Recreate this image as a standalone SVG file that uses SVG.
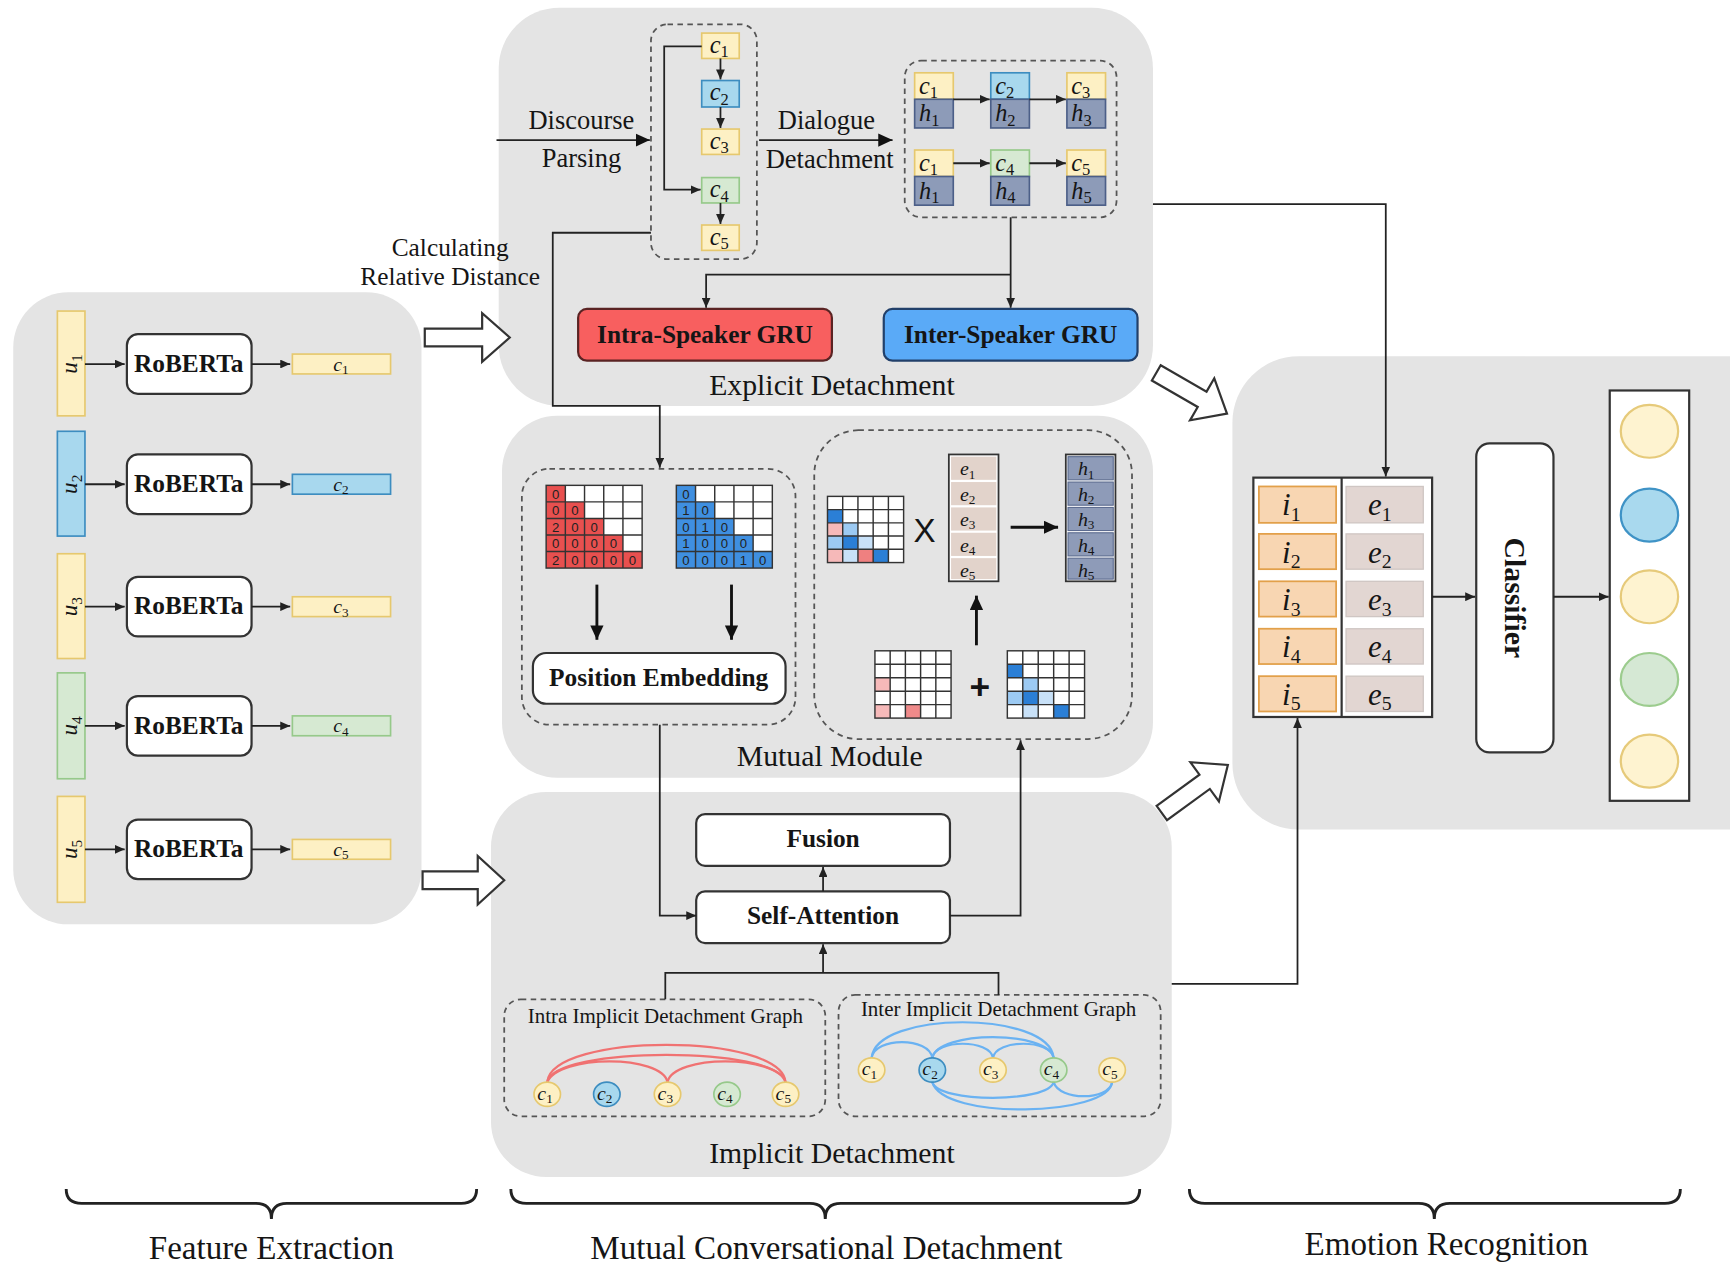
<svg xmlns="http://www.w3.org/2000/svg" width="1730" height="1263" viewBox="0 0 1730 1263">
<defs>
<style>
.panel{fill:#e4e4e4}
.dash{fill:none;stroke:#555;stroke-width:1.6;stroke-dasharray:5 4}
.ln{fill:none;stroke:#222;stroke-width:1.6}
.lnb{fill:none;stroke:#111;stroke-width:2.6}
.box{fill:#fff;stroke:#333;stroke-width:2}
.yel{fill:#fdf0c4;stroke:#e6c86e;stroke-width:1.5}
.blu{fill:#a8d8ee;stroke:#3d8dc0;stroke-width:1.5}
.grn{fill:#d6e9d2;stroke:#96c98a;stroke-width:1.5}
.hc{fill:#8d9bb8;stroke:#4c5f88;stroke-width:1.5}
.t{font-family:"Liberation Serif","Times New Roman",serif;fill:#151515}
.b{font-weight:bold}
.m{font-style:italic}
.s{font-style:normal}
.mid{text-anchor:middle}
.num{font-family:"Liberation Sans",Arial,sans-serif;font-size:12px;fill:#222;text-anchor:middle}
.grid{fill:none;stroke:#333;stroke-width:1.3}
.hollow{fill:#fff;stroke:#333;stroke-width:2;stroke-linejoin:miter}
.red{fill:none;stroke:#f07272;stroke-width:2}
.bl{fill:none;stroke:#6ab2f2;stroke-width:2}
.brace{fill:none;stroke:#222;stroke-width:2.6}
</style>
<marker id="a" markerUnits="userSpaceOnUse" markerWidth="9" markerHeight="8" refX="9" refY="4" orient="auto"><path d="M0,0 L9,4 L0,8 z" fill="#222"/></marker>
<marker id="A" markerUnits="userSpaceOnUse" markerWidth="13" markerHeight="12" refX="13" refY="6" orient="auto"><path d="M0,0 L13,6 L0,12 z" fill="#111"/></marker>
</defs>
<g transform="scale(1.10332 1.10306)">

<g id="panels">
<rect class="panel" x="12" y="265" width="370" height="573" rx="50"/>
<rect class="panel" x="452" y="7" width="593" height="361" rx="55"/>
<rect class="panel" x="455" y="377" width="590" height="328" rx="50"/>
<rect class="panel" x="445" y="718" width="617" height="349" rx="50"/>
<rect class="panel" x="1117" y="323" width="520" height="429" rx="60"/>
</g>

<g id="hollow-arrows">
<polygon class="hollow" points="385,298 437,298 437,284 462,306 437,328 437,314 385,314"/>
<polygon class="hollow" points="383,790 433,790 433,776 457,798 433,820 433,806 383,806"/>
<polygon class="hollow" transform="translate(1048,338) rotate(30)" points="0,-8 48,-8 48,-22 74,0 48,22 48,8 0,8"/>
<polygon class="hollow" transform="translate(1053,737) rotate(-36)" points="0,-8 48,-8 48,-22 74,0 48,22 48,8 0,8"/>
</g>

<g id="feature-extraction">
<g id="u1"><rect class="yel" x="52" y="282" width="25" height="95"/><text class="t m mid" font-size="21" transform="translate(70,330) rotate(-90)">u<tspan class="s" font-size="14" dy="4">1</tspan></text></g>
<g id="u2"><rect class="blu" x="52" y="391" width="25" height="95"/><text class="t m mid" font-size="21" transform="translate(70,439) rotate(-90)">u<tspan class="s" font-size="14" dy="4">2</tspan></text></g>
<g id="u3"><rect class="yel" x="52" y="502" width="25" height="95"/><text class="t m mid" font-size="21" transform="translate(70,550) rotate(-90)">u<tspan class="s" font-size="14" dy="4">3</tspan></text></g>
<g id="u4"><rect class="grn" x="52" y="610" width="25" height="96"/><text class="t m mid" font-size="21" transform="translate(70,658) rotate(-90)">u<tspan class="s" font-size="14" dy="4">4</tspan></text></g>
<g id="u5"><rect class="yel" x="52" y="722" width="25" height="96"/><text class="t m mid" font-size="21" transform="translate(70,770) rotate(-90)">u<tspan class="s" font-size="14" dy="4">5</tspan></text></g>

<g id="roberta1"><rect class="box" x="115" y="303" width="113" height="54" rx="10"/><text class="t b mid" font-size="23" x="171" y="337">RoBERTa</text></g>
<g id="roberta2"><rect class="box" x="115" y="412" width="113" height="54" rx="10"/><text class="t b mid" font-size="23" x="171" y="446">RoBERTa</text></g>
<g id="roberta3"><rect class="box" x="115" y="523" width="113" height="54" rx="10"/><text class="t b mid" font-size="23" x="171" y="557">RoBERTa</text></g>
<g id="roberta4"><rect class="box" x="115" y="631" width="113" height="54" rx="10"/><text class="t b mid" font-size="23" x="171" y="665">RoBERTa</text></g>
<g id="roberta5"><rect class="box" x="115" y="743" width="113" height="54" rx="10"/><text class="t b mid" font-size="23" x="171" y="777">RoBERTa</text></g>

<g id="cbar1"><rect class="yel" x="265" y="321" width="89" height="18"/><text class="t m mid" font-size="18" x="309" y="336">c<tspan class="s" font-size="12" dy="3">1</tspan></text></g>
<g id="cbar2"><rect class="blu" x="265" y="430" width="89" height="18"/><text class="t m mid" font-size="18" x="309" y="445">c<tspan class="s" font-size="12" dy="3">2</tspan></text></g>
<g id="cbar3"><rect class="yel" x="265" y="541" width="89" height="18"/><text class="t m mid" font-size="18" x="309" y="556">c<tspan class="s" font-size="12" dy="3">3</tspan></text></g>
<g id="cbar4"><rect class="grn" x="265" y="649" width="89" height="18"/><text class="t m mid" font-size="18" x="309" y="664">c<tspan class="s" font-size="12" dy="3">4</tspan></text></g>
<g id="cbar5"><rect class="yel" x="265" y="761" width="89" height="18"/><text class="t m mid" font-size="18" x="309" y="776">c<tspan class="s" font-size="12" dy="3">5</tspan></text></g>
</g>

<g id="explicit">
<text class="t mid" font-size="24" x="527" y="117">Discourse</text>
<text class="t mid" font-size="24" x="527" y="151">Parsing</text>
<text class="t mid" font-size="24" x="749" y="117">Dialogue</text>
<text class="t mid" font-size="24" x="752" y="152">Detachment</text>
<text class="t mid" font-size="23" x="408" y="232">Calculating</text>
<text class="t mid" font-size="23" x="408" y="258">Relative Distance</text>

<g id="discourse-tree">
<rect class="dash" x="590" y="22" width="96" height="213" rx="15"/>
<rect class="yel" x="636" y="30" width="34" height="23"/><text class="t m mid" font-size="22" x="652" y="48">c<tspan class="s" font-size="15" dy="4">1</tspan></text>
<rect class="blu" x="636" y="73" width="34" height="24"/><text class="t m mid" font-size="22" x="652" y="91">c<tspan class="s" font-size="15" dy="4">2</tspan></text>
<rect class="yel" x="636" y="117" width="34" height="23"/><text class="t m mid" font-size="22" x="652" y="135">c<tspan class="s" font-size="15" dy="4">3</tspan></text>
<rect class="grn" x="636" y="161" width="34" height="23"/><text class="t m mid" font-size="22" x="652" y="179">c<tspan class="s" font-size="15" dy="4">4</tspan></text>
<rect class="yel" x="636" y="204" width="34" height="23"/><text class="t m mid" font-size="22" x="652" y="222">c<tspan class="s" font-size="15" dy="4">5</tspan></text>
</g>

<g id="detached-chains">
<rect class="dash" x="820" y="55" width="192" height="142" rx="15"/>
<rect class="yel" x="829" y="66" width="35" height="24"/><rect class="hc" x="829" y="90" width="35" height="26"/>
<rect class="blu" x="898" y="66" width="35" height="24"/><rect class="hc" x="898" y="90" width="35" height="26"/>
<rect class="yel" x="967" y="66" width="35" height="24"/><rect class="hc" x="967" y="90" width="35" height="26"/>
<rect class="yel" x="829" y="136" width="35" height="24"/><rect class="hc" x="829" y="160" width="35" height="26"/>
<rect class="grn" x="898" y="136" width="35" height="24"/><rect class="hc" x="898" y="160" width="35" height="26"/>
<rect class="yel" x="967" y="136" width="35" height="24"/><rect class="hc" x="967" y="160" width="35" height="26"/>
<g class="t m" font-size="22">
<text x="833" y="85">c<tspan class="s" font-size="15" dy="4">1</tspan></text>
<text x="902" y="85">c<tspan class="s" font-size="15" dy="4">2</tspan></text>
<text x="971" y="85">c<tspan class="s" font-size="15" dy="4">3</tspan></text>
<text x="833" y="110">h<tspan class="s" font-size="15" dy="4">1</tspan></text>
<text x="902" y="110">h<tspan class="s" font-size="15" dy="4">2</tspan></text>
<text x="971" y="110">h<tspan class="s" font-size="15" dy="4">3</tspan></text>
<text x="833" y="155">c<tspan class="s" font-size="15" dy="4">1</tspan></text>
<text x="902" y="155">c<tspan class="s" font-size="15" dy="4">4</tspan></text>
<text x="971" y="155">c<tspan class="s" font-size="15" dy="4">5</tspan></text>
<text x="833" y="180">h<tspan class="s" font-size="15" dy="4">1</tspan></text>
<text x="902" y="180">h<tspan class="s" font-size="15" dy="4">4</tspan></text>
<text x="971" y="180">h<tspan class="s" font-size="15" dy="4">5</tspan></text>
</g>
</g>

<g id="intra-gru"><rect x="524" y="280" width="230" height="47" rx="8" fill="#f85f5f" stroke="#5a2323" stroke-width="2"/><text class="t b mid" font-size="23" x="639" y="311">Intra-Speaker GRU</text></g>
<g id="inter-gru"><rect x="801" y="280" width="230" height="47" rx="8" fill="#5aaaf7" stroke="#22406a" stroke-width="2"/><text class="t b mid" font-size="23" x="916" y="311">Inter-Speaker GRU</text></g>
<text class="t mid" font-size="27" x="754" y="358">Explicit Detachment</text>
</g>

<g id="mutual">
<rect class="dash" x="473" y="425" width="248" height="232" rx="25"/>
<g id="red-matrix">
<rect x="495" y="440" width="87" height="75" fill="#fff"/>
<polygon fill="#e8504f" points="495,440 512.4,440 512.4,455 529.8,455 529.8,470 547.2,470 547.2,485 564.6,485 564.6,500 582,500 582,515 495,515"/>
<rect class="grid" x="495" y="440" width="87" height="75"/>
<path class="grid" d="M512.4,440V515M529.8,440V515M547.2,440V515M564.6,440V515M495,455H582M495,470H582M495,485H582M495,500H582"/>
<text class="num" x="503.7" y="452">0</text>
<text class="num" x="503.7" y="467">0</text><text class="num" x="521.1" y="467">0</text>
<text class="num" x="503.7" y="482">2</text><text class="num" x="521.1" y="482">0</text><text class="num" x="538.5" y="482">0</text>
<text class="num" x="503.7" y="497">0</text><text class="num" x="521.1" y="497">0</text><text class="num" x="538.5" y="497">0</text><text class="num" x="555.9" y="497">0</text>
<text class="num" x="503.7" y="512">2</text><text class="num" x="521.1" y="512">0</text><text class="num" x="538.5" y="512">0</text><text class="num" x="555.9" y="512">0</text><text class="num" x="573.3" y="512">0</text>
</g>
<g id="blue-matrix">
<rect x="613" y="440" width="87" height="75" fill="#fff"/>
<polygon fill="#3f8fe0" points="613,440 630.4,440 630.4,455 647.8,455 647.8,470 665.2,470 665.2,485 682.6,485 682.6,500 700,500 700,515 613,515"/>
<rect class="grid" x="613" y="440" width="87" height="75"/>
<path class="grid" d="M630.4,440V515M647.8,440V515M665.2,440V515M682.6,440V515M613,455H700M613,470H700M613,485H700M613,500H700"/>
<text class="num" x="621.7" y="452">0</text>
<text class="num" x="621.7" y="467">1</text><text class="num" x="639.1" y="467">0</text>
<text class="num" x="621.7" y="482">0</text><text class="num" x="639.1" y="482">1</text><text class="num" x="656.5" y="482">0</text>
<text class="num" x="621.7" y="497">1</text><text class="num" x="639.1" y="497">0</text><text class="num" x="656.5" y="497">0</text><text class="num" x="673.9" y="497">0</text>
<text class="num" x="621.7" y="512">0</text><text class="num" x="639.1" y="512">0</text><text class="num" x="656.5" y="512">0</text><text class="num" x="673.9" y="512">1</text><text class="num" x="691.3" y="512">0</text>
</g>
<g id="position-embedding"><rect class="box" x="483" y="592" width="229" height="46" rx="12"/><text class="t b mid" font-size="23" x="597" y="622">Position Embedding</text></g>

<rect class="dash" x="738" y="390" width="288" height="280" rx="40"/>
<g id="attn-matrix">
<rect x="750" y="450" width="69" height="60" fill="#fff"/>
<rect x="750" y="462" width="13.8" height="12" fill="#2b7fd6"/>
<rect x="750" y="474" width="13.8" height="12" fill="#f6b9b9"/>
<rect x="763.8" y="474" width="13.8" height="12" fill="#9ccaf3"/>
<rect x="750" y="486" width="13.8" height="12" fill="#9ccaf3"/>
<rect x="763.8" y="486" width="13.8" height="12" fill="#2b7fd6"/>
<rect x="777.6" y="486" width="13.8" height="12" fill="#c8e1f8"/>
<rect x="750" y="498" width="13.8" height="12" fill="#f6b9b9"/>
<rect x="763.8" y="498" width="13.8" height="12" fill="#c8e1f8"/>
<rect x="777.6" y="498" width="13.8" height="12" fill="#ef8080"/>
<rect x="791.4" y="498" width="13.8" height="12" fill="#2b7fd6"/>
<rect class="grid" x="750" y="450" width="69" height="60"/>
<path class="grid" d="M763.8,450V510M777.6,450V510M791.4,450V510M805.2,450V510M750,462H819M750,474H819M750,486H819M750,498H819"/>
</g>
<text class="mid" font-size="30" x="838" y="491" font-family="Liberation Sans, sans-serif" fill="#151515">X</text>
<g id="e-column">
<rect x="860" y="412" width="45" height="115" fill="#fff" stroke="#333" stroke-width="1.6"/>
<rect x="862" y="414" width="41" height="21" fill="#e2d3cb"/>
<rect x="862" y="437" width="41" height="21" fill="#e2d3cb"/>
<rect x="862" y="460" width="41" height="21" fill="#e2d3cb"/>
<rect x="862" y="483" width="41" height="21" fill="#e2d3cb"/>
<rect x="862" y="506" width="41" height="19" fill="#e2d3cb"/>
<g class="t m" font-size="18"><text x="870" y="431">e<tspan class="s" font-size="12" dy="3">1</tspan></text><text x="870" y="454">e<tspan class="s" font-size="12" dy="3">2</tspan></text><text x="870" y="477">e<tspan class="s" font-size="12" dy="3">3</tspan></text><text x="870" y="500">e<tspan class="s" font-size="12" dy="3">4</tspan></text><text x="870" y="523">e<tspan class="s" font-size="12" dy="3">5</tspan></text></g>
</g>
<g id="h-column">
<rect x="966" y="412" width="45" height="115" fill="#fff" stroke="#333" stroke-width="1.6"/>
<rect x="968" y="414" width="41" height="21" fill="#8e9bb8" stroke="#5a6a8e"/>
<rect x="968" y="437" width="41" height="21" fill="#8e9bb8" stroke="#5a6a8e"/>
<rect x="968" y="460" width="41" height="21" fill="#8e9bb8" stroke="#5a6a8e"/>
<rect x="968" y="483" width="41" height="21" fill="#8e9bb8" stroke="#5a6a8e"/>
<rect x="968" y="506" width="41" height="19" fill="#8e9bb8" stroke="#5a6a8e"/>
<g class="t m" font-size="18"><text x="977" y="431">h<tspan class="s" font-size="12" dy="3">1</tspan></text><text x="977" y="454">h<tspan class="s" font-size="12" dy="3">2</tspan></text><text x="977" y="477">h<tspan class="s" font-size="12" dy="3">3</tspan></text><text x="977" y="500">h<tspan class="s" font-size="12" dy="3">4</tspan></text><text x="977" y="523">h<tspan class="s" font-size="12" dy="3">5</tspan></text></g>
</g>
<g id="intra-matrix">
<rect x="793" y="590" width="69" height="61" fill="#fff"/>
<rect x="793" y="614.4" width="13.8" height="12.2" fill="#f6b9b9"/>
<rect x="793" y="638.8" width="13.8" height="12.2" fill="#f6b9b9"/>
<rect x="820.6" y="638.8" width="13.8" height="12.2" fill="#ef8a8a"/>
<rect class="grid" x="793" y="590" width="69" height="61"/>
<path class="grid" d="M806.8,590V651M820.6,590V651M834.4,590V651M848.2,590V651M793,602.2H862M793,614.4H862M793,626.6H862M793,638.8H862"/>
</g>
<text class="mid" font-size="32" font-weight="bold" x="888" y="634" font-family="Liberation Sans, sans-serif" fill="#151515">+</text>
<g id="inter-matrix">
<rect x="913" y="590" width="70" height="61" fill="#fff"/>
<rect x="913" y="602.2" width="14" height="12.2" fill="#2b7fd6"/>
<rect x="927" y="614.4" width="14" height="12.2" fill="#9ccaf3"/>
<rect x="913" y="626.6" width="14" height="12.2" fill="#9ccaf3"/>
<rect x="927" y="626.6" width="14" height="12.2" fill="#2b7fd6"/>
<rect x="941" y="626.6" width="14" height="12.2" fill="#c8e1f8"/>
<rect x="927" y="638.8" width="14" height="12.2" fill="#c8e1f8"/>
<rect x="955" y="638.8" width="14" height="12.2" fill="#2b7fd6"/>
<rect class="grid" x="913" y="590" width="70" height="61"/>
<path class="grid" d="M927,590V651M941,590V651M955,590V651M969,590V651M913,602.2H983M913,614.4H983M913,626.6H983M913,638.8H983"/>
</g>
<text class="t mid" font-size="27" x="752" y="694">Mutual Module</text>
</g>

<g id="implicit">
<g id="fusion"><rect class="box" x="631" y="738" width="230" height="47" rx="8"/><text class="t b mid" font-size="23" x="746" y="768">Fusion</text></g>
<g id="self-attention"><rect class="box" x="631" y="808" width="230" height="47" rx="8"/><text class="t b mid" font-size="23" x="746" y="838">Self-Attention</text></g>

<g id="intra-graph">
<rect class="dash" x="457" y="906" width="291" height="106" rx="15"/>
<text class="t mid" font-size="19" x="603" y="927" fill="#333">Intra Implicit Detachment Graph</text>
<path class="red" d="M496,981 C500,936 708,936 712,981"/>
<path class="red" d="M496,981 C502,948 706,948 712,981"/>
<path class="red" d="M605,981 C600,956 506,956 496,981"/>
<path class="red" d="M605,981 C610,956 704,956 712,981"/>
<ellipse cx="496" cy="992" rx="12" ry="11" class="yel"/>
<ellipse cx="550" cy="992" rx="12" ry="11" class="blu"/>
<ellipse cx="605" cy="992" rx="12" ry="11" class="yel"/>
<ellipse cx="659" cy="992" rx="12" ry="11" class="grn"/>
<ellipse cx="712" cy="992" rx="12" ry="11" class="yel"/>
<g class="t m" font-size="18"><text x="487" y="997">c<tspan class="s" font-size="12" dy="3">1</tspan></text><text x="541" y="997">c<tspan class="s" font-size="12" dy="3">2</tspan></text><text x="596" y="997">c<tspan class="s" font-size="12" dy="3">3</tspan></text><text x="650" y="997">c<tspan class="s" font-size="12" dy="3">4</tspan></text><text x="703" y="997">c<tspan class="s" font-size="12" dy="3">5</tspan></text></g>
</g>

<g id="inter-graph">
<rect class="dash" x="760" y="902" width="292" height="110" rx="15"/>
<text class="t mid" font-size="19" x="905" y="921" fill="#333">Inter Implicit Detachment Graph</text>
<path class="bl" d="M790,959 C794,916 951,916 955,959"/>
<path class="bl" d="M790,959 C793,940 842,940 845,959"/>
<path class="bl" d="M845,959 C848,942 897,942 900,959"/>
<path class="bl" d="M900,959 C903,942 952,942 955,959"/>
<path class="bl" d="M845,959 C850,934 950,934 955,959"/>
<path class="bl" d="M845,981 C850,1000 950,1000 955,981"/>
<path class="bl" d="M845,981 C855,1016 1005,1012 1008,981"/>
<path class="bl" d="M955,981 C960,998 1005,998 1008,981"/>
<ellipse cx="790" cy="970" rx="12" ry="11" class="yel"/>
<ellipse cx="845" cy="970" rx="12" ry="11" class="blu"/>
<ellipse cx="900" cy="970" rx="12" ry="11" class="yel"/>
<ellipse cx="955" cy="970" rx="12" ry="11" class="grn"/>
<ellipse cx="1008" cy="970" rx="12" ry="11" class="yel"/>
<g class="t m" font-size="18"><text x="781" y="975">c<tspan class="s" font-size="12" dy="3">1</tspan></text><text x="836" y="975">c<tspan class="s" font-size="12" dy="3">2</tspan></text><text x="891" y="975">c<tspan class="s" font-size="12" dy="3">3</tspan></text><text x="946" y="975">c<tspan class="s" font-size="12" dy="3">4</tspan></text><text x="999" y="975">c<tspan class="s" font-size="12" dy="3">5</tspan></text></g>
</g>
<text class="t mid" font-size="27" x="754" y="1054">Implicit Detachment</text>
</g>

<g id="emotion">
<g id="table">
<rect x="1136" y="433" width="162" height="217" fill="#fff" stroke="#333" stroke-width="2"/>
<line x1="1216" y1="433" x2="1216" y2="650" stroke="#333" stroke-width="2"/>
<g fill="#f8d6b2" stroke="#e2a04a" stroke-width="1.6">
<rect x="1141" y="441" width="70" height="33"/><rect x="1141" y="484" width="70" height="32"/><rect x="1141" y="527" width="70" height="32"/><rect x="1141" y="570" width="70" height="32"/><rect x="1141" y="613" width="70" height="32"/>
</g>
<g fill="#e2d6d2" stroke="#cfc6c3" stroke-width="1.2">
<rect x="1220" y="441" width="70" height="33"/><rect x="1220" y="484" width="70" height="32"/><rect x="1220" y="527" width="70" height="32"/><rect x="1220" y="570" width="70" height="32"/><rect x="1220" y="613" width="70" height="32"/>
</g>
<g class="t m" font-size="28">
<text x="1162" y="467">i<tspan class="s" font-size="18" dy="5">1</tspan></text>
<text x="1162" y="510">i<tspan class="s" font-size="18" dy="5">2</tspan></text>
<text x="1162" y="553">i<tspan class="s" font-size="18" dy="5">3</tspan></text>
<text x="1162" y="596">i<tspan class="s" font-size="18" dy="5">4</tspan></text>
<text x="1162" y="639">i<tspan class="s" font-size="18" dy="5">5</tspan></text>
<text x="1240" y="467">e<tspan class="s" font-size="18" dy="5">1</tspan></text>
<text x="1240" y="510">e<tspan class="s" font-size="18" dy="5">2</tspan></text>
<text x="1240" y="553">e<tspan class="s" font-size="18" dy="5">3</tspan></text>
<text x="1240" y="596">e<tspan class="s" font-size="18" dy="5">4</tspan></text>
<text x="1240" y="639">e<tspan class="s" font-size="18" dy="5">5</tspan></text>
</g>
</g>
<g id="classifier"><rect class="box" x="1338" y="402" width="70" height="280" rx="12"/><text class="t b mid" font-size="27" transform="translate(1364,542) rotate(90)">Classifier</text></g>
<g id="output">
<rect x="1459" y="354" width="72" height="372" fill="#fff" stroke="#333" stroke-width="2"/>
<ellipse cx="1495" cy="391" rx="26" ry="24" fill="#fef3d0" stroke="#e6ca7a" stroke-width="2"/>
<ellipse cx="1495" cy="467" rx="26" ry="24" fill="#a9d9ee" stroke="#3f93c6" stroke-width="2"/>
<ellipse cx="1495" cy="541" rx="26" ry="24" fill="#fef3d0" stroke="#e6ca7a" stroke-width="2"/>
<ellipse cx="1495" cy="616" rx="26" ry="24" fill="#d5e8d4" stroke="#9ccc8e" stroke-width="2"/>
<ellipse cx="1495" cy="690" rx="26" ry="24" fill="#fef3d0" stroke="#e6ca7a" stroke-width="2"/>
</g>
</g>

<g id="connectors">
<path class="ln" marker-end="url(#a)" d="M77,330H113"/>
<path class="ln" marker-end="url(#a)" d="M77,439H113"/>
<path class="ln" marker-end="url(#a)" d="M77,550H113"/>
<path class="ln" marker-end="url(#a)" d="M77,658H113"/>
<path class="ln" marker-end="url(#a)" d="M77,770H113"/>
<path class="ln" marker-end="url(#a)" d="M228,330H263"/>
<path class="ln" marker-end="url(#a)" d="M228,439H263"/>
<path class="ln" marker-end="url(#a)" d="M228,550H263"/>
<path class="ln" marker-end="url(#a)" d="M228,658H263"/>
<path class="ln" marker-end="url(#a)" d="M228,770H263"/>

<path class="ln" stroke-width="2" marker-end="url(#A)" d="M450,127H589"/>
<path class="ln" stroke-width="2" marker-end="url(#A)" d="M688,127H809"/>
<path class="ln" marker-end="url(#a)" d="M653,53V72"/>
<path class="ln" marker-end="url(#a)" d="M653,97V116"/>
<path class="ln" marker-end="url(#a)" d="M653,184V203"/>
<path class="ln" marker-end="url(#a)" d="M636,42H602V172H635"/>
<path class="ln" marker-end="url(#a)" d="M864,90H897"/>
<path class="ln" marker-end="url(#a)" d="M933,90H966"/>
<path class="ln" marker-end="url(#a)" d="M864,148H897"/>
<path class="ln" marker-end="url(#a)" d="M933,148H966"/>
<path class="ln" marker-end="url(#a)" d="M916,197V279"/>
<path class="ln" marker-end="url(#a)" d="M916,249H640V279"/>
<path class="ln" marker-end="url(#a)" d="M590,211H501V368H598V424"/>
<path class="ln" marker-end="url(#a)" d="M1045,185H1256V432"/>

<path class="lnb" marker-end="url(#A)" d="M541,530V580"/>
<path class="lnb" marker-end="url(#A)" d="M663,530V580"/>
<path class="lnb" marker-end="url(#A)" d="M916,478H959"/>
<path class="lnb" marker-end="url(#A)" d="M885,585V540"/>

<path class="ln" marker-end="url(#a)" d="M598,657V830H631"/>
<path class="ln" marker-end="url(#a)" d="M861,830H925V671"/>
<path class="ln" marker-end="url(#a)" d="M746,808V786"/>
<path class="ln" d="M603,906V882H905V902"/>
<path class="ln" stroke-width="2" marker-end="url(#a)" d="M746,882V856"/>
<path class="ln" marker-end="url(#a)" d="M1062,892H1176V651"/>
<path class="ln" marker-end="url(#a)" d="M1298,541H1337"/>
<path class="ln" marker-end="url(#a)" d="M1408,541H1458"/>
</g>

<g id="sections">
<path class="brace" d="M60,1078 Q60,1091 74,1091 H232 Q246,1091 246,1105 Q246,1091 260,1091 H418 Q432,1091 432,1078"/>
<path class="brace" d="M463,1078 Q463,1091 477,1091 H734 Q748,1091 748,1105 Q748,1091 762,1091 H1019 Q1033,1091 1033,1078"/>
<path class="brace" d="M1078,1078 Q1078,1091 1092,1091 H1286 Q1300,1091 1300,1105 Q1300,1091 1314,1091 H1509 Q1523,1091 1523,1078"/>
<text class="t mid" font-size="30" x="246" y="1141">Feature Extraction</text>
<text class="t mid" font-size="30" x="749" y="1141">Mutual Conversational Detachment</text>
<text class="t mid" font-size="30" x="1311" y="1138">Emotion Recognition</text>
</g>
</g>
</svg>
